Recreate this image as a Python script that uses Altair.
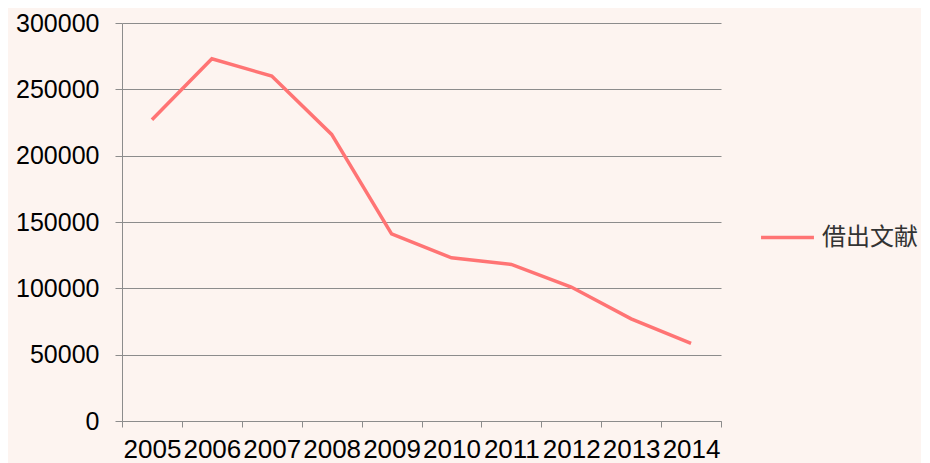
import altair as alt
import pandas as pd

years = [2005, 2006, 2007, 2008, 2009, 2010, 2011, 2012, 2013, 2014]
loans = [227000, 273000, 260000, 216000, 141000, 123000, 118000, 101000, 77000, 58500]
series_name = "借出文献"
y_ticks = [0, 50000, 100000, 150000, 200000, 250000, 300000]

df = pd.DataFrame({"year": years, "value": loans, "series": [series_name] * len(years)})

edge_ticks = [y - 0.5 for y in years] + [years[-1] + 0.5]
x_values = sorted(edge_ticks + years)

chart = alt.Chart(df).mark_line(strokeWidth=3.5).encode(
    x=alt.X(
        "year:Q",
        scale=alt.Scale(domain=[years[0] - 0.5, years[-1] + 0.5], nice=False, zero=False),
        axis=alt.Axis(
            title=None,
            values=x_values,
            labelExpr="datum.value % 1 === 0 ? format(datum.value, 'd') : ''",
            labelOverlap=False,
            labelFlush=False,
            labelFont="Liberation Sans",
            labelFontSize=26,
            labelColor="#000000",
            labelPadding=9,
            tickSize=6,
            tickColor="#8c8c8c",
            tickOpacity={"condition": {"test": "datum.value % 1 === 0", "value": 0}, "value": 1},
            domainColor="#8c8c8c",
            grid=False,
        ),
    ),
    y=alt.Y(
        "value:Q",
        scale=alt.Scale(domain=[0, 300000], nice=False),
        axis=alt.Axis(
            title=None,
            values=y_ticks,
            format="d",
            labelFont="Liberation Sans",
            labelFontSize=25,
            labelColor="#000000",
            labelPadding=16,
            tickSize=7,
            tickColor="#8c8c8c",
            domainColor="#8c8c8c",
            grid=True,
            gridColor="#8c8c8c",
            gridWidth=1,
        ),
    ),
    color=alt.Color(
        "series:N",
        scale=alt.Scale(range=["#ff7474"]),
        legend=alt.Legend(
            title=None,
            orient="none",
            legendX=637,
            legendY=186,
            symbolType="stroke",
            symbolSize=2800,
            symbolStrokeWidth=3.5,
            labelFont="Noto Sans CJK SC",
            labelFontSize=24,
            labelColor="#333333",
            labelOffset=6,
        ),
    ),
).properties(
    width=599,
    height=398,
    autosize=alt.AutoSizeParams(type="none"),
    padding={"left": 114, "top": 15, "right": 200, "bottom": 42},
    background="#fdf4f0",
).configure_view(stroke=None)

chart.save("out.html", embed_options={"renderer": "svg", "actions": False})
